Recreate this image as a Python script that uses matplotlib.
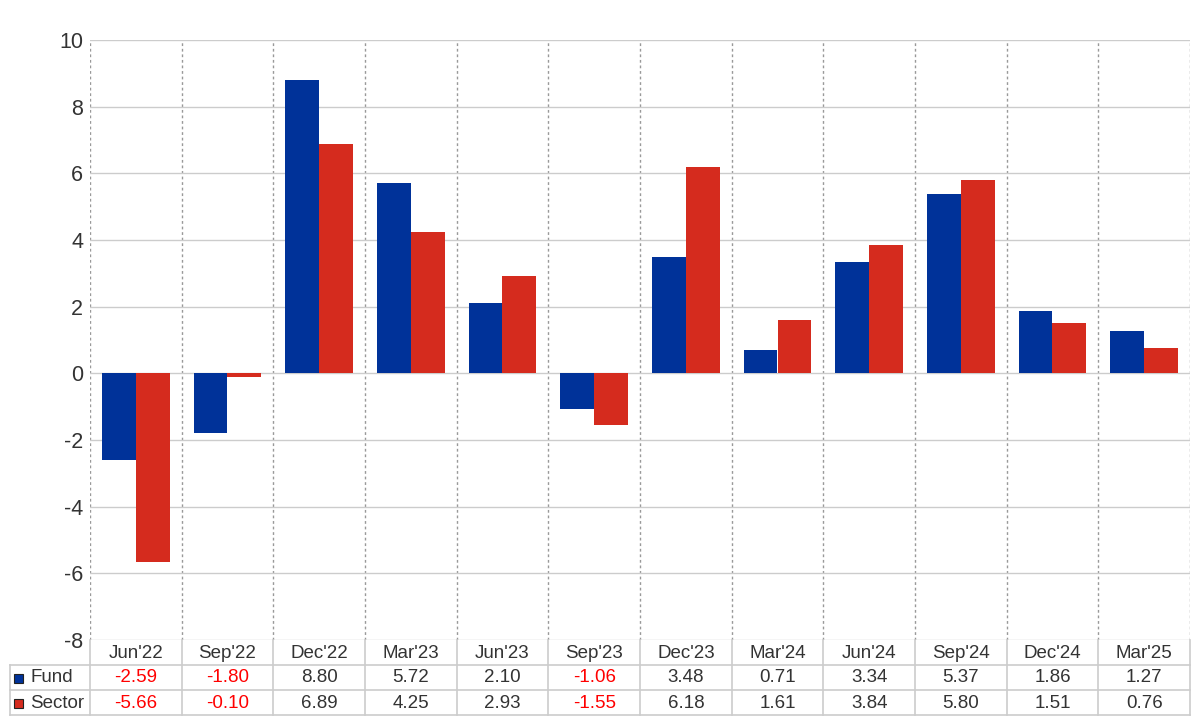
import matplotlib as mpl
mpl.use('Agg')
import matplotlib.pyplot as plt
import numpy as np

plt.rcParams['font.family'] = ['Liberation Sans', 'DejaVu Sans']
plt.rcParams['axes.unicode_minus'] = False

quarters = ["Jun'22", "Sep'22", "Dec'22", "Mar'23", "Jun'23", "Sep'23",
            "Dec'23", "Mar'24", "Jun'24", "Sep'24", "Dec'24", "Mar'25"]
fund = [-2.59, -1.80, 8.80, 5.72, 2.10, -1.06, 3.48, 0.71, 3.34, 5.37, 1.86, 1.27]
sector = [-5.66, -0.10, 6.89, 4.25, 2.93, -1.55, 6.18, 1.61, 3.84, 5.80, 1.51, 0.76]
series_names = ['Fund', 'Sector']
series_colors = ['#003299', '#d52b1e']

W, H = 1200, 720
fig = plt.figure(figsize=(12, 7.2), dpi=100)

# main plot area in pixel units
x0, x1, y_top, y_bot = 90, 1190, 40, 640
ax = fig.add_axes([x0/W, 1-y_bot/H, (x1-x0)/W, (y_bot-y_top)/H])

n = len(quarters)
x = np.arange(n)
bw = 0.37
ax.bar(x - bw/2, fund, width=bw, color=series_colors[0], zorder=3)
ax.bar(x + bw/2, sector, width=bw, color=series_colors[1], zorder=3)

ax.set_xlim(-0.5, n - 0.5)
ax.set_ylim(-8, 10)
ax.set_yticks(np.arange(-8, 11, 2))
ax.yaxis.grid(True, color='#cccccc', lw=1, zorder=0)
for b in np.arange(-0.5, n, 1.0):
    ax.axvline(b, color='#999999', lw=1, ls=(0, (2, 2)), zorder=1)
for s in ax.spines.values():
    s.set_visible(False)
ax.set_xticks([])
ax.tick_params(axis='y', length=0, labelsize=15.5, labelcolor='#333333', pad=5)

# data table below the plot
tab = fig.add_axes([0, 0, 1, 1], facecolor='none')
tab.set_xlim(0, W)
tab.set_ylim(H, 0)
tab.axis('off')

gc = '#cccccc'
cw = (x1 - x0) / n
rows = [640, 665, 690, 715]
for yy in rows[1:]:
    tab.plot([10, x1], [yy, yy], color=gc, lw=1.2)
for i in range(n + 1):
    xx = x0 + i*cw
    tab.plot([xx, xx], [640, 715], color=gc, lw=1.2)
tab.plot([10, 10], [665, 715], color=gc, lw=1.2)

tc = '#333333'
fs = 13.5
for i, q in enumerate(quarters):
    cx = x0 + (i + 0.5)*cw
    tab.text(cx, 653, q, ha='center', va='center', fontsize=fs, color=tc)
    for r, vals in enumerate([fund, sector]):
        v = vals[i]
        tab.text(cx, 678 + 25*r, '%.2f' % v, ha='center', va='center',
                 fontsize=fs, color='#ff0000' if v < 0 else tc)

for r, (name, col) in enumerate(zip(series_names, series_colors)):
    yy = 678 + 25*r
    tab.add_patch(plt.Rectangle((14, yy - 4.5), 9, 9, facecolor=col,
                                edgecolor='#222222', lw=0.8))
    tab.text(30, yy, name, ha='left', va='center', fontsize=fs, color=tc)

plt.savefig('out.png', dpi=100)
